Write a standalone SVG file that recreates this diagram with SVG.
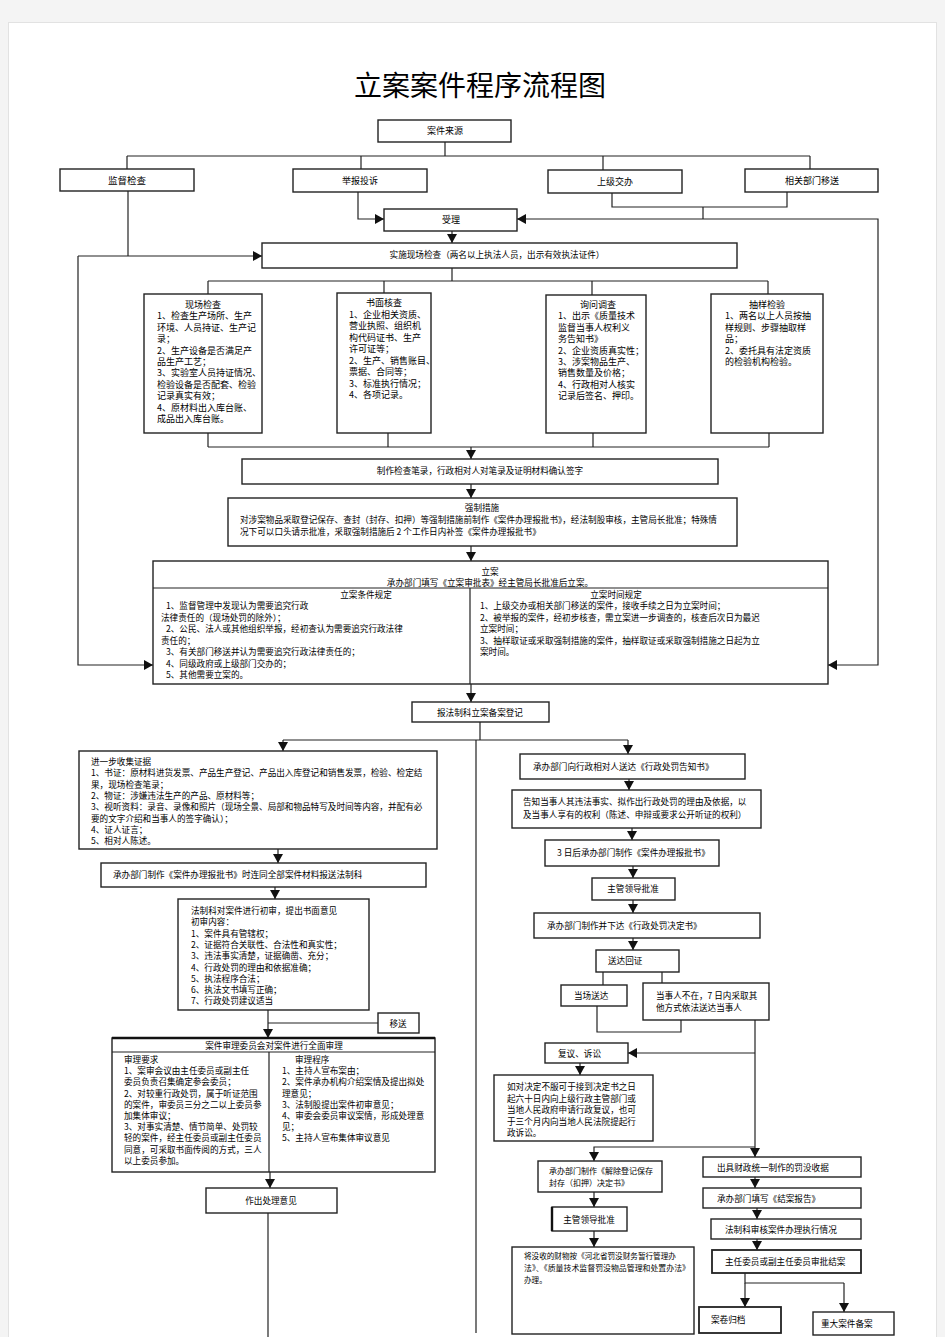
<svg xmlns="http://www.w3.org/2000/svg" width="945" height="1337" viewBox="0 0 945 1337">
<style>
.b{fill:#fff;stroke:#222;stroke-width:1.4}
.t{font-family:"Noto Sans CJK SC","Liberation Sans",sans-serif;font-size:8.6px;fill:#000}
.s{font-size:9px}
.c{text-anchor:middle}
.ln{stroke:#222;stroke-width:1.2;fill:none}
.ar{stroke:#222;stroke-width:1.2;fill:none;marker-end:url(#a)}
</style>
<defs>
<marker id="a" markerUnits="userSpaceOnUse" markerWidth="9" markerHeight="10" refX="9" refY="5" orient="auto"><path d="M0,0 L9,5 L0,10 z" fill="#111"/></marker>
</defs>
<rect width="945" height="1337" fill="#f4f4f4"/>
<rect x="8.5" y="22.5" width="928" height="1320" fill="#fff" stroke="#e2e2e2"/>
<text x="480" y="96" class="t c" style="font-size:28px">立案案件程序流程图</text>

<g id="connectors">
<path class="ln" d="M445,142 V156 M127,156 H810 M127,156 V169 M361,156 V169 M603,156 V170 M810,156 V169"/>
<path class="ar" d="M358,192 V219 H384"/>
<path class="ln" d="M612,193 V207 H787 V192 M703,207 V219"/>
<path class="ar" d="M703,219 H517"/>
<path class="ar" d="M703,219 H878 V665 H828"/>
<path class="ar" d="M452,231 V243"/>
<path class="ln" d="M128,191 V256"/>
<path class="ar" d="M78,256 H262"/>
<path class="ar" d="M78,256 V665 H153"/>
<path class="ln" d="M452,268 V281 M208,281 H768 M208,281 V294 M384,281 V293 M592,281 V295 M768,281 V294"/>
<path class="ln" d="M208,433 V447 M388,433 V447 M593,433 V447 M769,433 V447 M208,447 H769"/>
<path class="ar" d="M471,447 V459"/>
<path class="ar" d="M471,484 V498"/>
<path class="ar" d="M471,546 V561"/>
<path class="ar" d="M471,684 V702"/>
<path class="ln" d="M480,722 V740 M283,740 H628 M476,740 V1333"/>
<path class="ar" d="M283,740 V751"/>
<path class="ar" d="M628,740 V754"/>
<path class="ar" d="M278,849 V863"/>
<path class="ar" d="M275,887 V899"/>
<path class="ar" d="M268,1010 V1038"/>
<path class="ln" d="M268,1023 H378"/>
<path class="ar" d="M270,1172 V1188"/>
<path class="ln" d="M268,1213 V1337"/>
<path class="ar" d="M629,779 V790"/>
<path class="ar" d="M632,828 V840"/>
<path class="ar" d="M633,866 V878"/>
<path class="ar" d="M633,900 V913"/>
<path class="ar" d="M633,938 V950"/>
<path class="ln" d="M603,972 V985 M662,972 V983 M597,1006 V1032 H681 V1020"/>
<path class="ar" d="M755,1020 V1157"/>
<path class="ar" d="M755,1053 H628"/>
<path class="ar" d="M755,1147 H594 V1161"/>
<path class="ar" d="M580,1063 V1075"/>
<path class="ar" d="M594,1192 V1207"/>
<path class="ar" d="M594,1231 V1247"/>
<path class="ar" d="M755,1177 V1188"/>
<path class="ar" d="M757,1208 V1219"/>
<path class="ar" d="M757,1239 V1250"/>
<path class="ln" d="M745,1273 V1283 H844"/>
<path class="ar" d="M745,1283 V1307"/>
<path class="ar" d="M844,1283 V1312"/>
</g>

<g id="n-source"><rect class="b" x="378" y="120" width="133" height="22"/><text x="445" y="134" class="t s c">案件来源</text></g>
<g id="n-jiandu"><rect class="b" x="60" y="169" width="134" height="22"/><text x="127" y="183.5" class="t c" style="font-size:9.5px">监督检查</text></g>
<g id="n-jubao"><rect class="b" x="293" y="169" width="134" height="23"/><text x="360" y="184" class="t s c">举报投诉</text></g>
<g id="n-shangji"><rect class="b" x="548" y="170" width="134" height="23"/><text x="615" y="185" class="t s c">上级交办</text></g>
<g id="n-yisong"><rect class="b" x="745" y="169" width="133" height="23"/><text x="812" y="184" class="t s c">相关部门移送</text></g>
<g id="n-shouli"><rect class="b" x="384" y="209" width="133" height="22"/><text x="451" y="223" class="t s c">受理</text></g>
<g id="n-shishi"><rect class="b" x="262" y="243" width="475" height="25"/><text x="497" y="258" class="t c">实施现场检查（两名以上执法人员，出示有效执法证件）</text></g>

<g id="n-xianchang"><rect class="b" x="144" y="294" width="118" height="139"/>
<text class="t s"><tspan x="203" y="308" text-anchor="middle">现场检查</tspan><tspan x="157" y="319.4">1、检查生产场所、生产</tspan><tspan x="157" y="330.8">环境、人员持证、生产记</tspan><tspan x="157" y="342.2">录；</tspan><tspan x="157" y="353.6">2、生产设备是否满足产</tspan><tspan x="157" y="365">品生产工艺；</tspan><tspan x="157" y="376.4">3、实验室人员持证情况、</tspan><tspan x="157" y="387.8">检验设备是否配套、检验</tspan><tspan x="157" y="399.2">记录真实有效；</tspan><tspan x="157" y="410.6">4、原材料出入库台账、</tspan><tspan x="157" y="422">成品出入库台账。</tspan></text></g>
<g id="n-shumian"><rect class="b" x="337" y="293" width="94" height="140"/>
<text class="t s"><tspan x="384" y="306" text-anchor="middle">书面核查</tspan><tspan x="349" y="317.5">1、企业相关资质、</tspan><tspan x="349" y="329">营业执照、组织机</tspan><tspan x="349" y="340.5">构代码证书、生产</tspan><tspan x="349" y="352">许可证等；</tspan><tspan x="349" y="363.5">2、生产、销售账目、</tspan><tspan x="349" y="375">票据、合同等；</tspan><tspan x="349" y="386.5">3、标准执行情况；</tspan><tspan x="349" y="398">4、各项记录。</tspan></text></g>
<g id="n-xunwen"><rect class="b" x="546" y="295" width="100" height="138"/>
<text class="t s"><tspan x="598" y="308" text-anchor="middle">询问调查</tspan><tspan x="558" y="319.4">1、出示《质量技术</tspan><tspan x="558" y="330.8">监督当事人权利义</tspan><tspan x="558" y="342.2">务告知书》</tspan><tspan x="558" y="353.6">2、企业资质真实性；</tspan><tspan x="558" y="365">3、涉案物品生产、</tspan><tspan x="558" y="376.4">销售数量及价格；</tspan><tspan x="558" y="387.8">4、行政相对人核实</tspan><tspan x="558" y="399.2">记录后签名、押印。</tspan></text></g>
<g id="n-chouyang"><rect class="b" x="711" y="294" width="112" height="139"/>
<text class="t s"><tspan x="767" y="308" text-anchor="middle">抽样检验</tspan><tspan x="725" y="319.4">1、两名以上人员按抽</tspan><tspan x="725" y="330.8">样规则、步骤抽取样</tspan><tspan x="725" y="342.2">品；</tspan><tspan x="725" y="353.6">2、委托具有法定资质</tspan><tspan x="725" y="365">的检验机构检验。</tspan></text></g>

<g id="n-zhizuo"><rect class="b" x="242" y="459" width="476" height="25"/><text x="480" y="474" class="t c">制作检查笔录，行政相对人对笔录及证明材料确认签字</text></g>
<g id="n-qiangzhi"><rect class="b" x="228" y="498" width="509" height="48"/>
<text class="t"><tspan x="482" y="511" text-anchor="middle">强制措施</tspan><tspan x="240" y="523">对涉案物品采取登记保存、查封（封存、扣押）等强制措施前制作《案件办理报批书》，经法制股审核，主管局长批准；特殊情</tspan><tspan x="240" y="535">况下可以口头请示批准，采取强制措施后 2 个工作日内补签《案件办理报批书》</tspan></text></g>

<g id="n-lian"><rect class="b" x="153" y="561" width="675" height="123"/>
<path class="ln" d="M153,588 H828 M470,588 V684"/>
<text class="t c"><tspan x="490" y="575">立案</tspan><tspan x="490" y="586">承办部门填写《立案审批表》经主管局长批准后立案。</tspan></text>
<text class="t c"><tspan x="366" y="598">立案条件规定</tspan><tspan x="616" y="598">立案时间规定</tspan></text>
<text class="t"><tspan x="166" y="609">1、监督管理中发现认为需要追究行政</tspan><tspan x="161" y="620.5">法律责任的（现场处罚的除外）；</tspan><tspan x="166" y="632">2、公民、法人或其他组织举报，经初查认为需要追究行政法律</tspan><tspan x="161" y="643.5">责任的；</tspan><tspan x="166" y="655">3、有关部门移送并认为需要追究行政法律责任的；</tspan><tspan x="166" y="666.5">4、同级政府或上级部门交办的；</tspan><tspan x="166" y="678">5、其他需要立案的。</tspan></text>
<text class="t"><tspan x="480" y="609">1、上级交办或相关部门移送的案件，接收手续之日为立案时间；</tspan><tspan x="480" y="620.5">2、被举报的案件，经初步核查，需立案进一步调查的，核查后次日为最迟</tspan><tspan x="480" y="632">立案时间；</tspan><tspan x="480" y="643.5">3、抽样取证或采取强制措施的案件，抽样取证或采取强制措施之日起为立</tspan><tspan x="480" y="655">案时间。</tspan></text></g>

<g id="n-baofazhi"><rect class="b" x="412" y="702" width="137" height="20"/><text x="480" y="715.5" class="t c">报法制科立案备案登记</text></g>

<g id="n-shouji"><rect class="b" x="79" y="751" width="358" height="98"/>
<text class="t"><tspan x="91" y="765">进一步收集证据</tspan><tspan x="91" y="776.3">1、书证：原材料进货发票、产品生产登记、产品出入库登记和销售发票，检验、检定结</tspan><tspan x="91" y="787.6">果，现场检查笔录；</tspan><tspan x="91" y="799">2、物证：涉嫌违法生产的产品、原材料等；</tspan><tspan x="91" y="810.3">3、视听资料：录音、录像和照片（现场全景、局部和物品特写及时间等内容，并配有必</tspan><tspan x="91" y="821.6">要的文字介绍和当事人的签字确认）；</tspan><tspan x="91" y="833">4、证人证言；</tspan><tspan x="91" y="844.3">5、相对人陈述。</tspan></text></g>
<g id="n-baopishu"><rect class="b" x="101" y="863" width="325" height="24"/><text x="113" y="878" class="t">承办部门制作《案件办理报批书》时连同全部案件材料报送法制科</text></g>
<g id="n-chushen"><rect class="b" x="178" y="899" width="191" height="111"/>
<text class="t"><tspan x="191" y="914">法制科对案件进行初审，提出书面意见</tspan><tspan x="191" y="925.3">初审内容：</tspan><tspan x="191" y="936.6">1、案件具有管辖权；</tspan><tspan x="191" y="947.9">2、证据符合关联性、合法性和真实性；</tspan><tspan x="191" y="959.2">3、违法事实清楚，证据确凿、充分；</tspan><tspan x="191" y="970.5">4、行政处罚的理由和依据准确；</tspan><tspan x="191" y="981.8">5、执法程序合法；</tspan><tspan x="191" y="993.1">6、执法文书填写正确；</tspan><tspan x="191" y="1004.4">7、行政处罚建议适当</tspan></text></g>
<g id="n-yisong2"><rect class="b" x="378" y="1013" width="41" height="20"/><text x="398" y="1026.5" class="t c">移送</text></g>
<g id="n-shenli"><rect class="b" x="112" y="1038" width="323" height="134"/>
<path class="ln" d="M112,1052 H435 M269,1052 V1172"/><path d="M112,1038 H435" stroke="#111" stroke-width="2.4"/>
<text x="274" y="1049" class="t c">案件审理委员会对案件进行全面审理</text>
<text class="t"><tspan x="124" y="1063">审理要求</tspan><tspan x="124" y="1074.2">1、案审会议由主任委员或副主任</tspan><tspan x="124" y="1085.4">委员负责召集确定参会委员；</tspan><tspan x="124" y="1096.6">2、对较重行政处罚，属于听证范围</tspan><tspan x="124" y="1107.8">的案件，审委员三分之二以上委员参</tspan><tspan x="124" y="1119">加集体审议；</tspan><tspan x="124" y="1130.2">3、对事实清楚、情节简单、处罚较</tspan><tspan x="124" y="1141.4">轻的案件，经主任委员或副主任委员</tspan><tspan x="124" y="1152.6">同意，可采取书面传阅的方式，三人</tspan><tspan x="124" y="1163.8">以上委员参加。</tspan></text>
<text class="t"><tspan x="295" y="1063">审理程序</tspan><tspan x="282" y="1074.2">1、主持人宣布案由；</tspan><tspan x="282" y="1085.4">2、案件承办机构介绍案情及提出拟处</tspan><tspan x="282" y="1096.6">理意见；</tspan><tspan x="282" y="1107.8">3、法制股提出案件初审意见；</tspan><tspan x="282" y="1119">4、审委会委员审议案情，形成处理意</tspan><tspan x="282" y="1130.2">见；</tspan><tspan x="282" y="1141.4">5、主持人宣布集体审议意见</tspan></text></g>
<g id="n-chuli"><rect class="b" x="206" y="1188" width="131" height="25"/><text x="271" y="1204" class="t c">作出处理意见</text></g>

<g id="n-gaozhi1"><rect class="b" x="520" y="754" width="225" height="25"/><text x="533" y="770" class="t">承办部门向行政相对人送达《行政处罚告知书》</text></g>
<g id="n-gaozhi2"><rect class="b" x="512" y="790" width="249" height="38"/><text class="t"><tspan x="523" y="805">告知当事人其违法事实、拟作出行政处罚的理由及依据，以</tspan><tspan x="523" y="818">及当事人享有的权利（陈述、申辩或要求公开听证的权利）</tspan></text></g>
<g id="n-3ri"><rect class="b" x="545" y="840" width="174" height="26"/><text x="557" y="856" class="t">3 日后承办部门制作《案件办理报批书》</text></g>
<g id="n-pizhun1"><rect class="b" x="592" y="878" width="83" height="22"/><text x="633" y="892" class="t c">主管领导批准</text></g>
<g id="n-xiada"><rect class="b" x="534" y="913" width="226" height="25"/><text x="547" y="928.5" class="t">承办部门制作并下达《行政处罚决定书》</text></g>
<g id="n-huizheng"><rect class="b" x="596" y="950" width="83" height="22"/><text x="608" y="964" class="t">送达回证</text></g>
<g id="n-dangchang"><rect class="b" x="561" y="985" width="66" height="21"/><text x="574" y="999" class="t">当场送达</text></g>
<g id="n-buzai"><rect class="b" x="643" y="983" width="126" height="37"/><text class="t"><tspan x="656" y="999">当事人不在，7 日内采取其</tspan><tspan x="656" y="1011">他方式依法送达当事人</tspan></text></g>
<g id="n-fuyi"><rect class="b" x="545" y="1043" width="83" height="20"/><text x="558" y="1057" class="t">复议、诉讼</text></g>
<g id="n-rudui"><rect class="b" x="494" y="1075" width="159" height="66"/><text class="t"><tspan x="507" y="1090">如对决定不服可于接到决定书之日</tspan><tspan x="507" y="1101.5">起六十日内向上级行政主管部门或</tspan><tspan x="507" y="1113">当地人民政府申请行政复议，也可</tspan><tspan x="507" y="1124.5">于三个月内向当地人民法院提起行</tspan><tspan x="507" y="1136">政诉讼。</tspan></text></g>
<g id="n-jiechu"><rect class="b" x="538" y="1161" width="124" height="31"/><text class="t" style="font-size:8px"><tspan x="549" y="1173.5">承办部门制作《解除登记保存</tspan><tspan x="549" y="1185.5">封存（扣押）决定书》</tspan></text></g>
<g id="n-pizhun2"><rect class="b" x="552" y="1207" width="75" height="24"/><path d="M552,1207 V1231" stroke="#111" stroke-width="2.4"/><text x="589" y="1222.5" class="t c">主管领导批准</text></g>
<g id="n-moshou"><rect class="b" x="512" y="1247" width="182" height="87"/><text class="t" style="font-size:7.6px"><tspan x="524" y="1259">将没收的财物按《河北省罚没财务暂行管理办</tspan><tspan x="524" y="1271" textLength="166" lengthAdjust="spacingAndGlyphs">法》、《质量技术监督罚没物品管理和处置办法》</tspan><tspan x="524" y="1283">办理。</tspan></text></g>
<g id="n-caizheng"><rect class="b" x="703" y="1157" width="158" height="20"/><text x="717" y="1170.5" class="t">出具财政统一制作的罚没收据</text></g>
<g id="n-jiean"><rect class="b" x="703" y="1188" width="158" height="20"/><text x="717" y="1201.5" class="t">承办部门填写《结案报告》</text></g>
<g id="n-shenhe"><rect class="b" x="711" y="1219" width="150" height="20"/><text x="725" y="1232.5" class="t">法制科审核案件办理执行情况</text></g>
<g id="n-shenpi"><rect class="b" x="712" y="1250" width="149" height="23" style="stroke-width:1.8"/><text x="725" y="1264.5" class="t">主任委员或副主任委员审批结案</text></g>
<g id="n-guidang"><rect class="b" x="699" y="1307" width="82" height="26" style="stroke-width:1.8"/><text x="711" y="1323" class="t">案卷归档</text></g>
<g id="n-beian"><rect class="b" x="813" y="1312" width="81" height="23"/><text x="821" y="1326.5" class="t">重大案件备案</text></g>
</svg>
